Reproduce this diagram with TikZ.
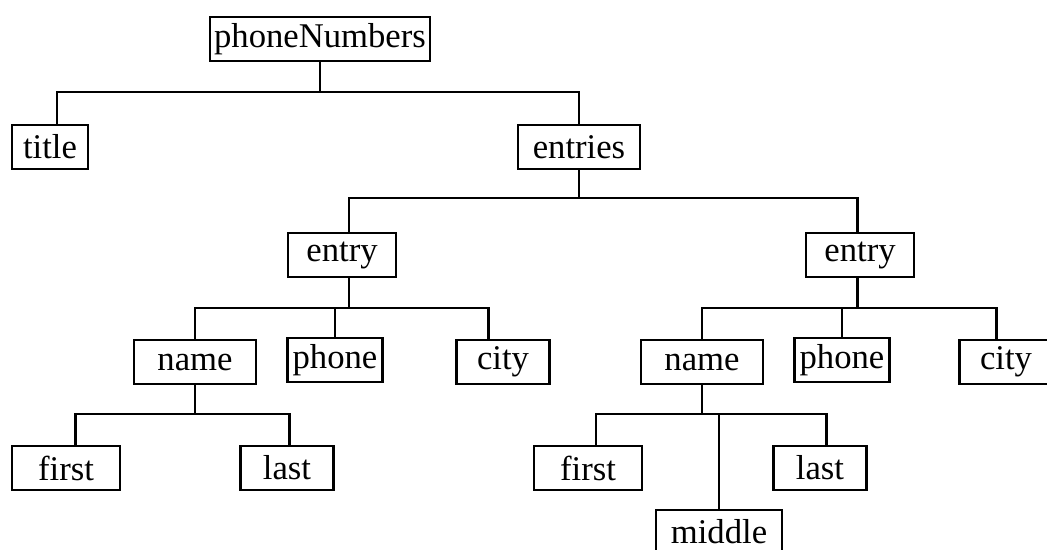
\documentclass[tikz,border=0pt]{standalone}
\usepackage{fontspec}
\setmainfont{Liberation Serif}
\begin{document}
\begin{tikzpicture}[x=0.75pt,y=-0.75pt,
  box/.style={draw,line width=2.1pt,font=\fontsize{26}{30}\selectfont,
    minimum height=33pt,inner sep=0pt,anchor=center},
  link/.style={line width=2.1pt}]
\useasboundingbox (0,0) rectangle (1047,550);
\begin{scope}
\clip (0,0) rectangle (1047,550);
% level 0
\node[box,minimum width=165pt] (pn) at (320,39) {phoneNumbers};
% level 1
\node[box,minimum width=57pt] (title) at (50,147) {title};
\node[box,minimum width=91.5pt] (entries) at (579,147) {entries};
% level 2
\node[box,minimum width=81pt] (e1) at (342,255) {entry};
\node[box,minimum width=81pt] (e2) at (860,255) {entry};
% level 3
\node[box,minimum width=91.5pt] (n1) at (195,362) {name};
\node[box,minimum width=71pt] (p1) at (335,360) {phone};
\node[box,minimum width=70pt] (c1) at (503,362) {city};
\node[box,minimum width=91.5pt] (n2) at (702,362) {name};
\node[box,minimum width=71pt] (p2) at (842,360) {phone};
\node[box,minimum width=70pt] (c2) at (1006,362) {city};
% level 4
\node[box,minimum width=81pt] (f1) at (66,468) {first};
\node[box,minimum width=70pt] (l1) at (287,468) {last};
\node[box,minimum width=81pt] (f2) at (588,468) {first};
\node[box,minimum width=70pt] (l2) at (820,468) {last};
\node[box,minimum width=94.5pt] (m2) at (719,532) {middle};
\end{scope}
% bar levels
\coordinate (b1) at (0,92);
\coordinate (b2) at (0,198);
\coordinate (b3) at (0,308);
\coordinate (b4) at (0,414);
% connectors
\draw[link] (pn.south) -- (pn.south |- b1) -| ([xshift=5.25pt]title.north);
\draw[link] (pn.south |- b1) -| (entries.north);
\draw[link] (entries.south) -- (entries.south |- b2) -| ([xshift=5.25pt]e1.north);
\draw[link] (entries.south |- b2) -| ([xshift=-2pt]e2.north);
\draw[link] ([xshift=5.25pt]e1.south) -- ([xshift=5.25pt]e1.south |- b3) -| (n1.north);
\draw[link] ([xshift=5.25pt]e1.south |- b3) -| (p1.north);
\draw[link] ([xshift=5.25pt]e1.south |- b3) -| ([xshift=-11pt]c1.north);
\draw[link] ([xshift=-2pt]e2.south) -- ([xshift=-2pt]e2.south |- b3) -| (n2.north);
\draw[link] ([xshift=-2pt]e2.south |- b3) -| (p2.north);
\draw[link] ([xshift=-2pt]e2.south |- b3) -| ([xshift=-7pt]c2.north);
\draw[link] (n1.south) -- (n1.south |- b4) -| ([xshift=7pt]f1.north);
\draw[link] (n1.south |- b4) -| ([xshift=2pt]l1.north);
\draw[link] (n2.south) -- (n2.south |- b4) -| ([xshift=6pt]f2.north);
\draw[link] (n2.south |- b4) -| ([xshift=5pt]l2.north);
\draw[link] (m2.north |- b4) -- (m2.north);
\end{tikzpicture}
\end{document}
